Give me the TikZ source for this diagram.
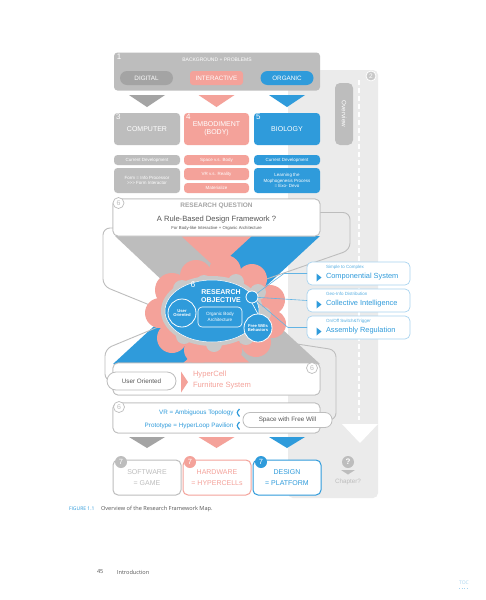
\documentclass[tikz,border=0pt]{standalone}
\usepackage{fontspec}
\setmainfont{Liberation Sans}
\newfontfamily\capfont{Open Sans}
\usetikzlibrary{calc}
\definecolor{cgray}{HTML}{BDBDBD}
\definecolor{cdgray}{HTML}{A4A4A4}
\definecolor{cpink}{HTML}{F4A29A}
\definecolor{cblue}{HTML}{2F9BDB}
\definecolor{cpanel}{HTML}{EBEBEB}
\definecolor{cline}{HTML}{BDBDBD}
\definecolor{ctext}{HTML}{555555}
\definecolor{clblue}{HTML}{A9D4F0}
\definecolor{chalo}{HTML}{C9C9C9}
\begin{document}
\begin{tikzpicture}[x=1pt,y=-1pt,
  every node/.style={inner sep=0pt, outer sep=0pt, align=center},
  fbox/.style={fill=#1, rounded corners=3.5pt, text=white},
  obox/.style={draw=cline, line width=0.8pt, fill=white, rounded corners=5pt},
  pill/.style={draw=cline, line width=0.8pt, fill=white, rounded corners=7pt, text=ctext},
  rbox/.style={draw=clblue, line width=0.7pt, fill=white, rounded corners=5pt, minimum width=103pt, minimum height=23pt},
  numo/.style={circle, draw=cline, line width=0.7pt, fill=white, text=cgray, minimum size=11pt, font=\fontsize{7}{7}\selectfont},
  numf/.style={circle, fill=#1, text=white, minimum size=12pt, font=\fontsize{7.5}{7.5}\selectfont},
  gline/.style={draw=cline, line width=0.9pt, rounded corners=7pt},
  bline/.style={draw=cblue!75, line width=0.6pt},
  smalltxt/.style={anchor=west, text=cblue!80, font=\fontsize{4.5}{5.2}\selectfont},
  maintxt/.style={anchor=west, text=cblue, font=\fontsize{7.4}{8}\selectfont},
  fA/.style={font=\fontsize{4.5}{5.2}\selectfont},
  fC/.style={font=\fontsize{6.3}{7}\selectfont},
  fD/.style={font=\fontsize{7}{8}\selectfont},
  fE/.style={font=\fontsize{8}{9}\selectfont},
]
\useasboundingbox (0,0) rectangle (486,600);
\fill[white] (0,0) rectangle (486,600);

% ---------- panel 2 ----------
\fill[cpanel, rounded corners=5pt] (288,70) rectangle (378,498);
\draw[white, line width=2pt, dash pattern=on 5pt off 3pt] (359,80) -- (359,420);
\fill[white] (342,424) -- (378,424) -- (360,443) -- cycle;
\node[circle, fill=chalo, draw=white, line width=0.8pt, text=white, minimum size=10pt, font=\fontsize{6.5}{6.5}\selectfont] (n2) at (371,76) {2};
\node[fill=cgray, rounded corners=5pt, rotate=-90, minimum width=62pt, minimum height=18pt, text=white, fC] (ov) at (344,114) {Overview};
\node[circle, fill=cgray, text=white, minimum size=12pt, font=\bfseries\fontsize{8}{8}\selectfont] (q) at (348,462) {?};
\fill[cgray] (341,470) -- (355,470) -- (348,474.5) -- cycle;
\node[text=cgray, fC] (chap) at (348,482) {Chapter?};

% ---------- box 1 ----------
\node[fbox=cgray, minimum width=206pt, minimum height=38pt] (b1) at (217,71.5) {};
\node[text=white, font=\fontsize{5}{5.5}\selectfont] (b1t) at (217,60) {BACKGROUND + PROBLEMS};
\node[text=white, fE] (b1n) at (119,57) {1};
\node[fbox=cdgray, rounded corners=7pt, minimum width=53pt, minimum height=14pt, fC] (dig) at (146.5,78) {DIGITAL};
\node[fbox=cpink, rounded corners=3pt, minimum width=53pt, minimum height=14pt, fC] (int) at (216.5,78) {INTERACTIVE};
\node[fbox=cblue, rounded corners=7pt, minimum width=53pt, minimum height=14pt, fC] (org) at (287,78) {ORGANIC};

% top triangles
\fill[cdgray] (129,95) -- (165,95) -- (147,107) -- cycle;
\fill[cpink] (198.5,95) -- (234.5,95) -- (216.5,107) -- cycle;
\fill[cblue] (269,95) -- (305,95) -- (287,107) -- cycle;

% ---------- boxes 3 4 5 ----------
\node[fbox=cgray, minimum width=66pt, minimum height=32pt, fD] (b3) at (147,129) {\raisebox{-3pt}{COMPUTER}};
\node[fbox=cpink, minimum width=65pt, minimum height=32pt, fD] (b4) at (216.5,129) {\raisebox{-3pt}{\shortstack{EMBODIMENT\\(BODY)}}};
\node[fbox=cblue, minimum width=66pt, minimum height=32pt, fD] (b5) at (287,129) {\raisebox{-3pt}{BIOLOGY}};
\node[text=white, fE, anchor=west] (n3) at (116,117) {3};
\node[text=white, fE, anchor=west] (n4) at (186,117) {4};
\node[text=white, fE, anchor=west] (n5) at (256,117) {5};

\node[fbox=cgray, minimum width=66pt, minimum height=10pt, fA] (g1) at (147,160) {Current Development};
\node[fbox=cpink, minimum width=65pt, minimum height=10pt, fA] (p1) at (216.5,160) {Space v.s. Body};
\node[fbox=cblue, minimum width=66pt, minimum height=10pt, fA] (u1) at (287,160) {Current Development};
\node[fbox=cgray, minimum width=66pt, minimum height=25pt, fA] (g2) at (147,180.5) {Form = Info Processor\\{>}{>}{>} Form Interactor};
\node[fbox=cpink, minimum width=65pt, minimum height=12pt, fA] (p2) at (216.5,174) {VR v.s. Reality};
\node[fbox=cpink, minimum width=65pt, minimum height=10pt, fA] (p3) at (216.5,188) {Materialize};
\node[fbox=cblue, minimum width=66pt, minimum height=25pt, fA] (u2) at (287,180.5) {Learning the\\Mophogenesis Process\\= Exo- Devo};

% ---------- crossing bands ----------
\fill[cpink] (181,236) -- (252,236) -- (252,364) -- (181,364) -- cycle;
\fill[cgray] (115,236) -- (181,236) -- (320,364) -- (251,364) -- cycle;
\fill[cblue] (252,236) -- (320,236) -- (182,364) -- (113,364) -- cycle;

% ---------- nodes used by connectors ----------
\node[obox, minimum width=207pt, minimum height=37pt] (rq) at (216.5,217.5) {};
\node[obox, minimum width=207pt, minimum height=32pt] (hc) at (216.5,379) {};
\node[obox, minimum width=207pt, minimum height=30pt] (vr) at (216.5,418) {};

% gray loop lines
\coordinate (cl1) at (157,308);
\coordinate (cl2) at (158,327);
\coordinate (cr1) at (258,282);
\coordinate (cr2) at (271,340);
\draw[gline] ($(rq.south west)+(0,-8)$) -- (103,228) -- (103,286) -- (cl1);
\draw[gline] ($(rq.east)+(0,-5)$) -- (350,212.5) -- (350,250) -- (cr1);
\draw[gline] (cl2) -- (105,349) -- (105,381) -- (108,381);
\draw[gline] (cr2) -- (336,350) -- (336,420) -- (331,420);

% redraw boxes on top of lines
\node[obox, minimum width=207pt, minimum height=37pt] (rq2) at (216.5,217.5) {};
\node[numo] (n6a) at (118.5,203) {6};
\node[text=cdgray, font=\bfseries\fontsize{6.5}{7}\selectfont] (rqt) at (216.5,206) {RESEARCH QUESTION};
\node[text=ctext, font=\fontsize{7.6}{8}\selectfont] (rqm) at (216.5,219.5) {A Rule-Based Design Framework ?};
\node[text=ctext, font=\fontsize{4.3}{5}\selectfont] (rqs) at (216.5,228.5) {For Body-like Interactive + Organic Architecture};

% ---------- cloud ----------
\fill[cpink] (215,310) ellipse[x radius=52, y radius=36];
\foreach \cx/\cy/\r in {172/290/17, 196/276/16, 225/271/16, 252/279/15, 270/300/15, 272/324/14, 256/342/15, 228/350/14, 198/350/14, 172/338/15, 160/313/15}
  \fill[cpink] (\cx,\cy) circle[radius=\r];
\fill[chalo] (212,311) ellipse[x radius=51, y radius=35];
\foreach \cx/\cy/\r in {182/289/9, 204/283/8, 236/282/8, 258/292/8, 264/314/7, 246/337/8, 214/344/8, 184/336/8, 169/313/7}
  \fill[chalo] (\cx,\cy) circle[radius=\r];
\fill[cblue, draw=white, line width=0.5pt] (212,311) ellipse[x radius=47, y radius=31];
\node[circle, fill=cblue, draw=white, line width=0.8pt, minimum size=28pt, text=white, font=\bfseries\fontsize{4.2}{4.8}\selectfont] (uo) at (182,313) {User\\Oriented};
\node[circle, fill=cblue, draw=white, line width=0.8pt, minimum size=28pt, text=white, font=\bfseries\fontsize{4.2}{4.8}\selectfont] (fw) at (258,328) {Free Wills\\Behaviors};
\node[circle, fill=cblue, draw=white, line width=0.8pt, minimum size=12pt] (hub) at (252,297) {};
\node[text=white, font=\fontsize{8.5}{9}\selectfont] (n6b) at (193,285) {6};
\node[text=white, font=\bfseries\fontsize{7}{7.6}\selectfont] (ro) at (221,296) {RESEARCH\\OBJECTIVE};
\node[draw=white, line width=0.6pt, rounded corners=4pt, minimum width=44pt, minimum height=20pt, text=white, font=\fontsize{4.6}{5.4}\selectfont] (oba) at (220,317) {Organic Body\\Architecture};
\draw[white, line width=0.6pt] (hub.south) -- (fw.north);

% ---------- right boxes ----------
\node[rbox] (ra) at (358.5,273.5) {};
\node[rbox] (rb) at (358.5,300.5) {};
\node[rbox] (rc) at (358.5,327.5) {};
\node[smalltxt] (ras) at ($(ra.west)+(19,-6.5)$) {Simple to Complex};
\node[maintxt] (ram) at ($(ra.west)+(19,3.5)$) {Componential System};
\node[smalltxt] (rbs) at ($(rb.west)+(19,-6.5)$) {Geo-Info Distribution};
\node[maintxt] (rbm) at ($(rb.west)+(19,3.5)$) {Collective Intelligence};
\node[smalltxt] (rcs) at ($(rc.west)+(19,-6.5)$) {On/Off Switch\&Trigger};
\node[maintxt] (rcm) at ($(rc.west)+(19,3.5)$) {Assembly Regulation};
\foreach \b in {ra,rb,rc}
  \fill[cblue] ($(\b.west)+(9.5,0)$) -- ($(\b.west)+(14.5,4)$) -- ($(\b.west)+(9.5,8)$) -- cycle;
\draw[bline] (hub) -- (284,273.5) -- (ra.west);
\draw[bline] (hub) -- (rb.west);
\draw[bline] (hub) -- (288,327.5) -- (rc.west);

% ---------- HyperCell box ----------
\node[obox, minimum width=207pt, minimum height=32pt] (hc2) at (216.5,379) {};
\node[numo] (n6c) at (312,368) {6};
\node[pill, rounded corners=9pt, minimum width=69pt, minimum height=18pt, fC] (uop) at (141.5,381) {User Oriented};
\fill[cpink] (181,371.5) -- (188,382) -- (181,392.5) -- cycle;
\node[anchor=west, align=left, text=cpink, font=\fontsize{7.6}{10.5}\selectfont] (hct) at (193,380) {HyperCell\\Furniture System};

% ---------- VR box ----------
\node[obox, minimum width=207pt, minimum height=30pt] (vr2) at (216.5,418) {};
\node[numo] (n6d) at (119,407) {6};
\node[anchor=east, text=cblue, fC] (vrt) at (233.5,413) {VR = Ambiguous Topology};
\node[anchor=east, text=cblue, fC] (prt) at (233.5,426) {Prototype = HyperLoop Pavilion};
\draw[cblue, line width=1.2pt] (239.5,409) .. controls (236.5,412.5) .. (239.5,416.5);
\draw[cblue, line width=1.2pt] (239.5,422) .. controls (236.5,425.5) .. (239.5,429.5);
\node[pill, minimum width=89pt, minimum height=15pt, fC] (sfw) at (287.5,420) {Space with Free Will};

% bottom triangles
\fill[cdgray] (129,437) -- (165,437) -- (147,448) -- cycle;
\fill[cpink] (198.5,437) -- (234.5,437) -- (216.5,448) -- cycle;
\fill[cblue] (269,437) -- (305,437) -- (287,448) -- cycle;

% ---------- bottom boxes ----------
\node[draw=cgray, line width=1pt, fill=white, rounded corners=5pt, minimum width=68pt, minimum height=35pt, text=cgray, font=\fontsize{7}{11}\selectfont] (sw) at (147,477.5) {SOFTWARE\\= GAME};
\node[draw=cpink, line width=1pt, fill=white, rounded corners=5pt, minimum width=68pt, minimum height=35pt, text=cpink, font=\fontsize{7}{11}\selectfont] (hw) at (217,477.5) {HARDWARE\\= HYPERCELLs};
\node[draw=cblue, line width=1pt, fill=white, rounded corners=5pt, minimum width=68pt, minimum height=35pt, text=cblue, font=\fontsize{7}{11}\selectfont] (ds) at (287,477.5) {DESIGN\\= PLATFORM};
\node[numf=cgray] (n7a) at (121,462) {7};
\node[numf=cpink] (n7b) at (190,462) {7};
\node[numf=cblue] (n7c) at (261,462) {7};

% ---------- caption & footer ----------
\node[anchor=west, text=cblue, font=\capfont\fontsize{5}{5}\selectfont] (figl) at (69,509) {FIGURE 1.1};
\node[anchor=west, text=ctext, font=\capfont\fontsize{5.6}{6}\selectfont] (figc) at (101,509) {Overview of the Research Framework Map.};
\node[anchor=west, text=ctext, font=\capfont\fontsize{5.6}{6}\selectfont] (pg) at (97,572) {45};
\node[anchor=west, text=ctext, font=\capfont\fontsize{5.6}{6}\selectfont] (intro) at (117,572) {Introduction};
\node[text=clblue, font=\capfont\fontsize{5}{5}\selectfont] (toc) at (464,583) {TOC};
\draw[clblue, line width=0.5pt, dash pattern=on 1pt off 1.5pt] (459,588) -- (469,588);
\end{tikzpicture}
\end{document}
